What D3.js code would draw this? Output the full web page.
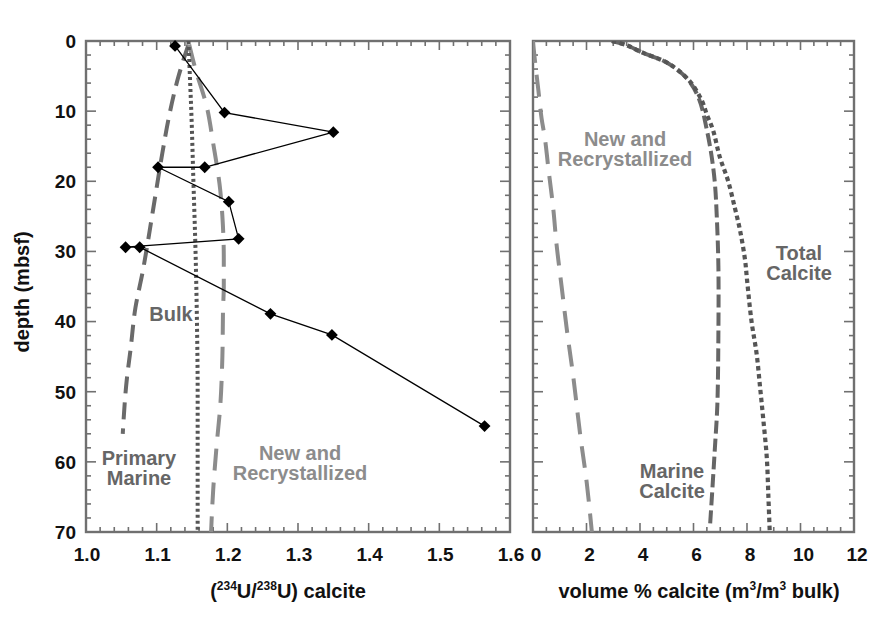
<!DOCTYPE html>
<html><head><meta charset="utf-8">
<script src="https://cdn.jsdelivr.net/npm/d3@7"></script>
<style>body{margin:0;background:#fff}</style>
</head><body>
<svg id="c" width="870" height="634"></svg>
<script>
// ---------- data ----------
const depthTicks = [0, 10, 20, 30, 40, 50, 60, 70];
const ratioTicks = [1.0, 1.1, 1.2, 1.3, 1.4, 1.5, 1.6];
const volTicks = [0, 2, 4, 6, 8, 10, 12];

// measured (234U/238U) calcite
const measDepth = [0.7, 10.2, 13.0, 18.0, 18.0, 22.9, 28.2, 29.4, 29.4, 38.9, 41.9, 54.9];
const measRatio = [1.126, 1.196, 1.350, 1.168, 1.102, 1.202, 1.216, 1.056, 1.076, 1.261, 1.348, 1.564];

// model: primary marine
const primaryDepth = [0.5, 5, 11, 16, 24, 33, 38, 44, 48, 56];
const primaryRatio = [1.145, 1.131, 1.117, 1.108, 1.095, 1.080, 1.070, 1.063, 1.058, 1.052];

// model: bulk
const bulkDepth = [0, 5, 10, 20, 30, 40, 50, 60, 70];
const bulkRatio = [1.145, 1.147, 1.149, 1.152, 1.155, 1.157, 1.158, 1.158, 1.158];

// model: new and recrystallized
const newRatioDepth = [0.5, 3.7, 9.4, 14.6, 21.3, 25, 31, 35, 38, 45, 52, 57.5, 64, 70];
const newRatio = [1.146, 1.154, 1.171, 1.180, 1.190, 1.193, 1.195, 1.195, 1.194, 1.193, 1.190, 1.185, 1.180, 1.177];

// right panel: volume % calcite
const newVolDepth = [0, 2, 7, 11, 14, 18, 24, 29, 35, 41, 48, 56, 63, 70];
const newVol = [0.0, 0.05, 0.2, 0.32, 0.45, 0.57, 0.76, 0.88, 1.07, 1.26, 1.51, 1.76, 2.01, 2.2];

const marineDepth = [0, 0.6, 1.6, 3.2, 5.6, 8.4, 12.7, 16.5, 20.3, 25, 32, 42, 52, 58, 63, 69];
const marineVol = [2.95, 3.5, 4.06, 5.06, 5.81, 6.22, 6.5, 6.68, 6.8, 6.87, 6.93, 6.93, 6.89, 6.8, 6.72, 6.62];

const totalDepth = [0, 0.6, 1.6, 3.2, 5.6, 8.4, 10.5, 12.7, 16.5, 19.9, 23.7, 27, 31.3, 34, 40, 44.6, 49.4, 54, 59.4, 65, 70];
const totalVol = [2.95, 3.5, 4.06, 5.06, 5.83, 6.3, 6.5, 6.73, 6.98, 7.29, 7.54, 7.74, 7.93, 8.0, 8.17, 8.36, 8.49, 8.61, 8.74, 8.8, 8.85];

// ---------- layout ----------
const svg = d3.select("#c");
const yTop = 41, yBot = 532;
const L = {x0: 86, x1: 510}, R = {x0: 533, x1: 854};
const y = d3.scaleLinear().domain([0, 70]).range([yTop, yBot]);
const xL = d3.scaleLinear().domain([1.0, 1.6]).range([L.x0, L.x1]);
const xR = d3.scaleLinear().domain([0, 12]).range([R.x0, R.x1]);
const FONT = "'Liberation Sans', Arial, Helvetica, sans-serif";
const frameCol = "#707070";

function clip(id, x0, x1) {
  svg.append("clipPath").attr("id", id).append("rect")
    .attr("x", x0).attr("y", yTop).attr("width", x1 - x0).attr("height", yBot - yTop);
}
clip("cl", L.x0, L.x1); clip("cr", R.x0, R.x1);

function frame(x, minorStep, majorStep, x0, x1) {
  const g = svg.append("g").attr("stroke", frameCol).attr("fill", "none");
  const xMinor = d3.range(x.domain()[0], x.domain()[1] + 1e-9, minorStep);
  const yMinor = d3.range(0, 70.0001, 2);
  xMinor.forEach(v => {
    const major = Math.abs(v / majorStep - Math.round(v / majorStep)) < 1e-6;
    const len = major ? 9 : 5;
    g.append("line").attr("x1", x(v)).attr("x2", x(v)).attr("y1", yBot).attr("y2", yBot - len).attr("stroke-width", 1.6);
    g.append("line").attr("x1", x(v)).attr("x2", x(v)).attr("y1", yTop).attr("y2", yTop + len).attr("stroke-width", 1.6);
  });
  yMinor.forEach(v => {
    const major = v % 10 === 0;
    const len = major ? 10 : 5;
    g.append("line").attr("x1", x0).attr("x2", x0 + len).attr("y1", y(v)).attr("y2", y(v)).attr("stroke-width", 1.6);
    g.append("line").attr("x1", x1).attr("x2", x1 - len).attr("y1", y(v)).attr("y2", y(v)).attr("stroke-width", 1.6);
  });
  g.append("rect").attr("x", x0).attr("y", yTop).attr("width", x1 - x0).attr("height", yBot - yTop).attr("stroke-width", 2.4);
}
frame(xL, 0.02, 0.1, L.x0, L.x1);
frame(xR, 0.5, 2, R.x0, R.x1);

// tick labels
const tl = svg.append("g").attr("font-family", FONT).attr("font-weight", "bold").attr("font-size", 19).attr("fill", "#111");
depthTicks.forEach(d => tl.append("text").attr("x", 76).attr("y", y(d)).attr("dy", "0.36em").attr("text-anchor", "end").text(d));
ratioTicks.forEach(v => tl.append("text").attr("x", xL(v) + 1).attr("y", 561).attr("text-anchor", "middle").text(d3.format(".1f")(v)));
volTicks.forEach(v => tl.append("text").attr("x", xR(v) + 3).attr("y", 561).attr("text-anchor", "middle").text(v));

// axis titles
svg.append("text").attr("transform", "translate(29,292) rotate(-90)").attr("text-anchor", "middle")
  .attr("font-family", FONT).attr("font-weight", "bold").attr("font-size", 20).attr("fill", "#111").text("depth (mbsf)");
const t1 = svg.append("text").attr("x", 288).attr("y", 598).attr("text-anchor", "middle")
  .attr("font-family", FONT).attr("font-weight", "bold").attr("font-size", 20).attr("fill", "#111");
t1.append("tspan").text("(");
t1.append("tspan").attr("font-size", 12).attr("dy", -8).text("234");
t1.append("tspan").attr("dy", 8).text("U/");
t1.append("tspan").attr("font-size", 12).attr("dy", -8).text("238");
t1.append("tspan").attr("dy", 8).text("U) calcite");
const t2 = svg.append("text").attr("x", 699).attr("y", 598).attr("text-anchor", "middle")
  .attr("font-family", FONT).attr("font-weight", "bold").attr("font-size", 20).attr("fill", "#111");
t2.append("tspan").text("volume % calcite (m");
t2.append("tspan").attr("font-size", 12).attr("dy", -8).text("3");
t2.append("tspan").attr("dy", 8).text("/m");
t2.append("tspan").attr("font-size", 12).attr("dy", -8).text("3");
t2.append("tspan").attr("dy", 8).text(" bulk)");

// curves
function curve(xs, ds, xScale, clipId, color, width, dash, cv) {
  const pts = ds.map((d, i) => [xs[i], d]);
  const line = d3.line().x(p => xScale(p[0])).y(p => y(p[1])).curve(cv || d3.curveMonotoneY);
  svg.append("path").attr("d", line(pts)).attr("clip-path", `url(#${clipId})`)
    .attr("fill", "none").attr("stroke", color).attr("stroke-width", width).attr("stroke-dasharray", dash);
}
curve(primaryRatio, primaryDepth, xL, "cl", "#6a6a6a", 4, "17,9");
curve(newRatio, newRatioDepth, xL, "cl", "#8c8c8c", 4, "22,12");
curve(bulkRatio, bulkDepth, xL, "cl", "#555", 4, "3,3");

const smooth = d3.curveCatmullRom.alpha(0.5);
curve(newVol, newVolDepth, xR, "cr", "#8c8c8c", 4, "22,12", smooth);
curve(marineVol, marineDepth, xR, "cr", "#666", 4, "13,5", smooth);
curve(totalVol, totalDepth, xR, "cr", "#555", 4.2, "4.5,3.5", smooth);

// measured data
const meas = measDepth.map((d, i) => [measRatio[i], d]);
svg.append("path").attr("d", d3.line().x(p => xL(p[0])).y(p => y(p[1]))(meas))
  .attr("fill", "none").attr("stroke", "#000").attr("stroke-width", 1.3);
svg.append("g").selectAll("path").data(meas).join("path")
  .attr("transform", p => `translate(${xL(p[0])},${y(p[1])}) rotate(45)`)
  .attr("d", d3.symbol().type(d3.symbolSquare).size(70)).attr("fill", "#000");

// annotations
function label(lines, x, y0, color, anchor) {
  const t = svg.append("text").attr("font-family", FONT).attr("font-weight", "bold").attr("font-size", 20)
    .attr("fill", color).attr("text-anchor", anchor || "middle");
  lines.forEach((s, i) => t.append("tspan").attr("x", x).attr("y", y0 + i * 20).text(s));
}
label(["Bulk"], 171, 321, "#666");
label(["Primary", "Marine"], 139, 465, "#666");
label(["New and", "Recrystallized"], 300, 460, "#8c8c8c");
label(["New and", "Recrystallized"], 625, 146, "#8c8c8c");
label(["Total", "Calcite"], 799, 260, "#666");
label(["Marine", "Calcite"], 672, 478, "#666");
</script>
</body></html>
